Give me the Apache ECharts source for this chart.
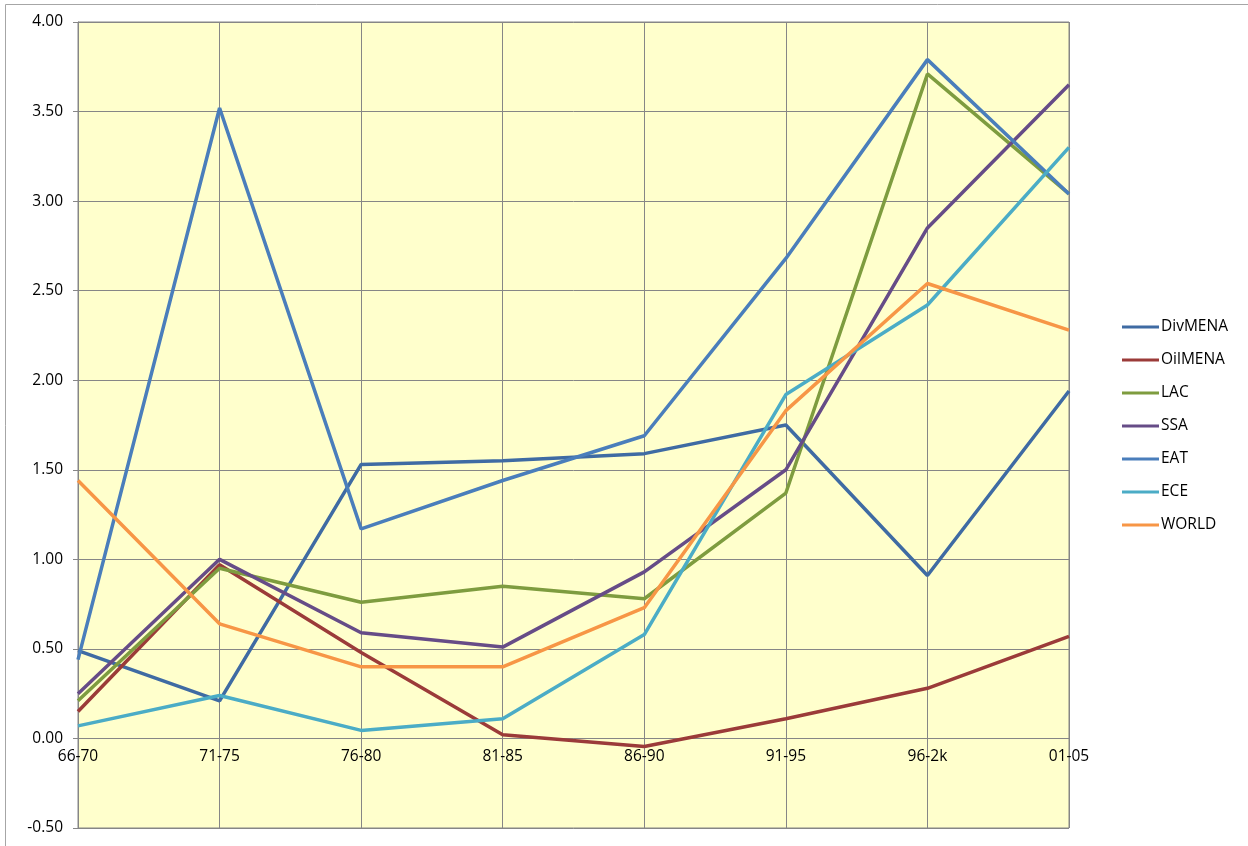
<!DOCTYPE html>
<html>
<head>
<meta charset="utf-8">
<script src="https://cdn.jsdelivr.net/npm/echarts@6/dist/echarts.min.js"></script>
<style>
html,body{margin:0;padding:0;background:#fff;}
#c{width:1248px;height:846px;}
</style>
</head>
<body>
<div id="c"></div>
<script>
const categories = ['66-70','71-75','76-80','81-85','86-90','91-95','96-2k','01-05'];
const divMENA = [0.49, 0.21, 1.53, 1.55, 1.59, 1.75, 0.91, 1.94];
const oilMENA = [0.15, 0.97, 0.48, 0.02, -0.045, 0.11, 0.28, 0.57];
const lac     = [0.21, 0.95, 0.76, 0.85, 0.78, 1.37, 3.71, 3.04];
const ssa     = [0.25, 1.00, 0.59, 0.51, 0.93, 1.50, 2.85, 3.65];
const eat     = [0.44, 3.52, 1.17, 1.44, 1.69, 2.68, 3.79, 3.04];
const ece     = [0.07, 0.24, 0.045, 0.11, 0.58, 1.92, 2.42, 3.30];
const world   = [1.44, 0.64, 0.40, 0.40, 0.73, 1.83, 2.54, 2.28];

const seriesNames = ['DivMENA','OilMENA','LAC','SSA','EAT','ECE','WORLD'];
const seriesData = [divMENA, oilMENA, lac, ssa, eat, ece, world];
const colors = ['#3f6ba3','#9b3b39','#7e9c3f','#664c87','#4a7ebb','#4bacc6','#f79646'];

const gridTop = 22, gridBottom = 18, yMin = -0.5, yMax = 4;
const plotH = 846 - gridTop - gridBottom;
const zeroOffset = -plotH * (0 - yMin) / (yMax - yMin);

const chart = echarts.init(document.getElementById('c'), null, {renderer:'canvas'});
chart.setOption({
  animation: false,
  color: colors,
  textStyle: {fontFamily: 'Open Sans, Liberation Sans, sans-serif'},
  graphic: [{
    type: 'rect', left: 3, top: 2, silent: true, z: -10,
    shape: {width: 1243, height: 900},
    style: {fill: 'none', stroke: '#a6a6a6', lineWidth: 1}
  }],
  grid: {
    left: 78, right: 179, top: gridTop, bottom: gridBottom,
    show: true, backgroundColor: '#ffffcc', borderColor: '#868686', borderWidth: 1
  },
  legend: {
    orient: 'vertical',
    left: 1117, top: 312,
    itemGap: 13,
    itemWidth: 37, itemHeight: 3,
    icon: 'rect',
    textStyle: {fontSize: 15.5, lineHeight: 20, color: '#000', fontFamily: 'Open Sans, sans-serif', padding: [0,0,0,-3]},
    data: seriesNames
  },
  xAxis: {
    type: 'category',
    data: categories,
    boundaryGap: false,
    offset: zeroOffset,
    axisLine: {onZero: false, lineStyle: {color: '#868686', width: 1}},
    axisTick: {show: false},
    axisLabel: {color: '#000', fontSize: 15.5, margin: 10, interval: 0},
    splitLine: {show: true, lineStyle: {color: '#868686', width: 1}}
  },
  yAxis: {
    type: 'value',
    min: yMin, max: yMax, interval: 0.5,
    axisLine: {show: true, lineStyle: {color: '#868686'}},
    axisTick: {show: true, length: 5, lineStyle: {color: '#868686'}},
    axisLabel: {color: '#000', fontSize: 15.5, margin: 15, formatter: v => v.toFixed(2)},
    splitLine: {show: true, lineStyle: {color: '#868686', width: 1}}
  },
  series: seriesNames.map((n, i) => ({
    name: n,
    type: 'line',
    data: seriesData[i],
    symbol: 'none',
    lineStyle: {width: 3.5, color: colors[i]},
    itemStyle: {color: colors[i]}
  }))
});
</script>
</body>
</html>
